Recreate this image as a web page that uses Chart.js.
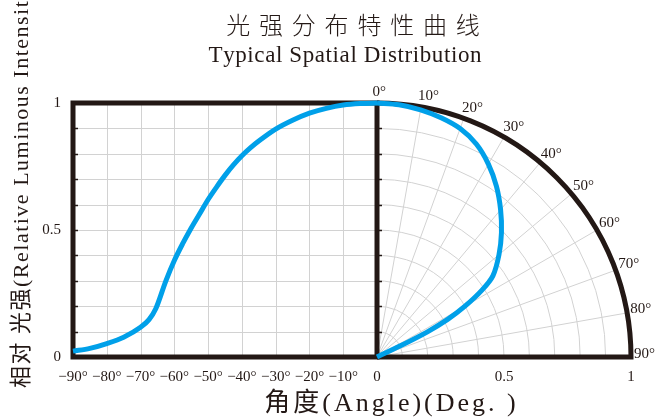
<!DOCTYPE html>
<html><head><meta charset="utf-8">
<script src="https://cdn.jsdelivr.net/npm/chart.js@4"></script>
<style>html,body{margin:0;padding:0;background:#fff}#wrap{width:667px;height:420px;position:relative}</style>
</head><body><div id="wrap"><canvas id="c" width="667" height="420"></canvas></div>
<script>
// ---- text ----
const titleCn = '光强分布特性曲线';
const titleEn = 'Typical Spatial Distribution';
const xTitle = '角度(Angle)(Deg. )';
const yTitle = '相对 光强(Relative Luminous Intensity';

// ---- data: Cartesian half (angle in degrees, relative intensity) ----
const leftAngles = [-90, -85, -80, -75, -70, -67.5, -65.5, -62.5, -60, -57.5, -55, -52.5, -50, -47.5, -45, -42.5, -40, -37.5, -35, -30, -25, -20, -15, -10, -5, 0];
const leftValues = [0.023, 0.034, 0.053, 0.078, 0.117, 0.147, 0.19, 0.30, 0.38, 0.447, 0.508, 0.564, 0.62, 0.669, 0.715, 0.756, 0.792, 0.823, 0.85, 0.897, 0.932, 0.96, 0.979, 0.992, 0.998, 1.0];

// ---- data: polar half (angle from axis in degrees, relative intensity) ----
const polarAngles = [0, 5, 10, 15, 20, 25, 30, 35, 40, 45, 50, 55, 57.5, 60, 62, 63.5, 64.5, 65];
const polarValues = [1.0, 0.997, 0.988, 0.975, 0.957, 0.925, 0.877, 0.82, 0.757, 0.693, 0.627, 0.557, 0.49, 0.40, 0.315, 0.22, 0.10, 0];

// ---- ticks ----
const angleTicks = [-90, -80, -70, -60, -50, -40, -30, -20, -10, 0];
const radiusTicks = [0.5, 1];
const yTicks = [0, 0.5, 1];
const yMinorTicks = [0.1, 0.2, 0.3, 0.4, 0.5, 0.6, 0.7, 0.8, 0.9];
const polarGridRadii = [0.1, 0.2, 0.3, 0.4, 0.5, 0.6, 0.7, 0.8, 0.9];
const polarSpokes = [10, 20, 30, 40, 50, 60, 70, 80];
const polarLabelAngles = [0, 10, 20, 30, 40, 50, 60, 70, 80, 90];

// ---- layout ----
const W = 667, H = 420;
const AREA_L = 73, AREA_R = 631, AREA_T = 103, AREA_B = 357;
const R_PX = AREA_B - AREA_T;              // polar radius in px (circle)
const LEFT_PX = (AREA_R - AREA_L) - R_PX;  // width of the Cartesian half
const XA_MAX = 90 * R_PX / LEFT_PX;        // angle-scale max so that 0 sits at the split
const XR_MIN = -LEFT_PX / R_PX;            // radius-scale min

const INK = '#231815';
const GRID = '#d2d2d2';
const BLUE = '#00a0e9';
const SERIF = '"Liberation Serif", "Noto Sans CJK SC", serif';

const leftPoints = leftAngles.map((a, i) => ({x: a, y: leftValues[i]}));
const polarPoints = polarAngles.map((a, i) => {
  const t = a * Math.PI / 180;
  return {x: polarValues[i] * Math.sin(t), y: polarValues[i] * Math.cos(t)};
});

function drawSpaced(ctx, text, x, y, sp, align) {
  const chars = Array.from(text);
  const ws = chars.map(c => ctx.measureText(c).width);
  const total = ws.reduce((a, b) => a + b, 0) + sp * (chars.length - 1);
  let cx = align === 'center' ? x - total / 2 : x;
  ctx.textAlign = 'left';
  chars.forEach((c, i) => { ctx.fillText(c, cx, y); cx += ws[i] + sp; });
}

const framePlugin = {
  id: 'frame',
  beforeDatasetsDraw(chart) {
    const ctx = chart.ctx;
    const xa = chart.scales.xa, xr = chart.scales.xr, y = chart.scales.y;
    const x0 = xa.getPixelForValue(-90), xz = xa.getPixelForValue(0);
    const yt = y.getPixelForValue(1), yb = y.getPixelForValue(0);
    const cx = xr.getPixelForValue(0), cy = yb;
    const R = xr.getPixelForValue(1) - cx;
    ctx.save();
    // Cartesian grid
    ctx.strokeStyle = GRID; ctx.lineWidth = 1;
    ctx.beginPath();
    angleTicks.forEach(a => { if (a > -90 && a < 0) { const px = Math.round(xa.getPixelForValue(a)) + 0.5; ctx.moveTo(px, yt); ctx.lineTo(px, yb); } });
    yMinorTicks.forEach(v => { const py = Math.round(y.getPixelForValue(v)) + 0.5; ctx.moveTo(x0, py); ctx.lineTo(xz, py); });
    ctx.stroke();
    // polar grid
    ctx.beginPath();
    polarGridRadii.forEach(r => { const rp = xr.getPixelForValue(r) - cx; ctx.moveTo(cx, cy - rp); ctx.arc(cx, cy, rp, -Math.PI / 2, 0); });
    polarSpokes.forEach(a => { const t = a * Math.PI / 180; ctx.moveTo(cx, cy); ctx.lineTo(cx + R * Math.sin(t), cy - R * Math.cos(t)); });
    ctx.stroke();
    // frame
    ctx.strokeStyle = INK; ctx.lineWidth = 5; ctx.lineJoin = 'miter';
    ctx.strokeRect(x0, yt, xz - x0, yb - yt);
    ctx.beginPath();
    ctx.moveTo(cx, cy); ctx.lineTo(cx + R, cy);
    ctx.arc(cx, cy, R, 0, -Math.PI / 2, true);
    ctx.stroke();
    // small tick marks on the vertical frame lines
    ctx.lineWidth = 1.5;
    ctx.beginPath();
    yMinorTicks.forEach(v => { const py = Math.round(y.getPixelForValue(v)) + 0.5; ctx.moveTo(x0 + 2, py); ctx.lineTo(x0 + 5, py); ctx.moveTo(xz + 2, py); ctx.lineTo(xz + 5, py); });
    ctx.stroke();
    ctx.restore();
  },
  afterDraw(chart) {
    const ctx = chart.ctx;
    const xr = chart.scales.xr, y = chart.scales.y;
    const cx = xr.getPixelForValue(0), cy = y.getPixelForValue(0);
    const R = xr.getPixelForValue(1) - cx;
    ctx.save();
    ctx.fillStyle = INK;
    // polar angle labels
    ctx.font = '15px ' + SERIF;
    ctx.textBaseline = 'middle'; ctx.textAlign = 'left';
    polarLabelAngles.forEach(a => {
      const t = a * Math.PI / 180;
      const px = cx + 1.03 * R * Math.sin(t), py = cy - 1.03 * R * Math.cos(t);
      ctx.fillText(a + '°', px - 4.5, py - 3);
    });
    // titles
    ctx.textBaseline = 'alphabetic';
    ctx.font = '300 24px "Noto Sans CJK SC", sans-serif';
    drawSpaced(ctx, titleCn, 353, 34, 8.8, 'center');
    ctx.font = '23px ' + SERIF;
    drawSpaced(ctx, titleEn, 345, 62, 0.6, 'center');
    ctx.font = '26px ' + SERIF;
    drawSpaced(ctx, xTitle, 390, 411, 3, 'center');
    // y title
    ctx.translate(22, 388);
    ctx.rotate(-Math.PI / 2);
    ctx.textBaseline = 'middle';
    ctx.font = '22px ' + SERIF;
    drawSpaced(ctx, yTitle, 0, 0, 1.5, 'left');
    ctx.restore();
  }
};

new Chart(document.getElementById('c'), {
  type: 'scatter',
  data: {
    datasets: [
      {data: leftPoints, xAxisID: 'xa', yAxisID: 'y', showLine: true, borderColor: BLUE, borderWidth: 5, pointRadius: 0, cubicInterpolationMode: 'monotone', clip: false},
      {data: polarPoints, xAxisID: 'xr', yAxisID: 'y', showLine: true, borderColor: BLUE, borderWidth: 5, pointRadius: 0, tension: 0.3, clip: false}
    ]
  },
  options: {
    responsive: false,
    animation: false,
    devicePixelRatio: 1,
    layout: {padding: {left: 0, right: W - AREA_R, top: AREA_T, bottom: 0}},
    plugins: {legend: {display: false}, tooltip: {enabled: false}, title: {display: false}},
    scales: {
      xa: {
        type: 'linear', position: 'bottom', min: -90, max: XA_MAX,
        afterFit(s) { s.height = H - AREA_B; },
        afterBuildTicks(s) { s.ticks = angleTicks.concat(radiusTicks.map(r => r * XA_MAX)).map(v => ({value: v})); },
        grid: {display: false, drawTicks: false}, border: {display: false},
        ticks: {
          padding: 11, color: INK, font: {family: SERIF, size: 15}, maxRotation: 0, autoSkip: false,
          callback(v) { if (v < 0) return '−' + (-v) + '°'; if (v === 0) return '0'; return String(+(v / XA_MAX).toFixed(2)); }
        }
      },
      xr: {type: 'linear', display: false, min: XR_MIN, max: 1},
      y: {
        type: 'linear', position: 'left', min: 0, max: 1,
        afterFit(s) { s.width = AREA_L; },
        afterBuildTicks(s) { s.ticks = yTicks.map(v => ({value: v})); },
        grid: {display: false, drawTicks: false}, border: {display: false},
        ticks: {padding: 12, color: INK, font: {family: SERIF, size: 15}, callback(v) { return String(v); }}
      }
    }
  },
  plugins: [framePlugin]
});
</script>
</body></html>
